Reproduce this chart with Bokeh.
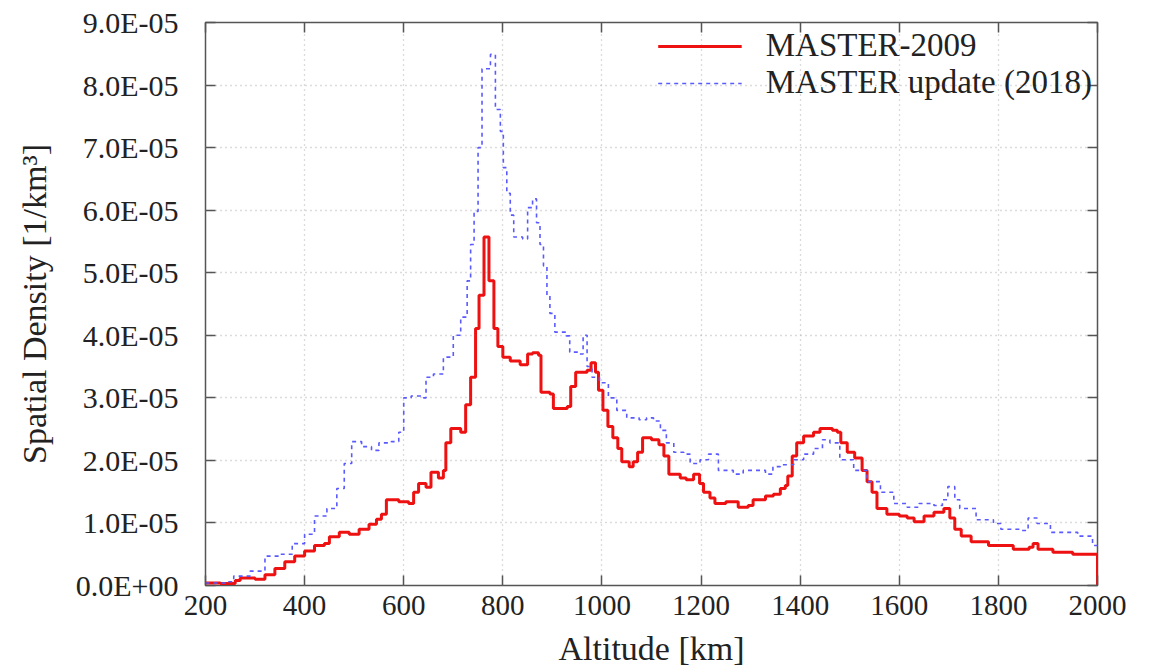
import numpy as np
from bokeh.plotting import figure
from bokeh.models import Range1d, LinearAxis, FixedTicker, CustomJSTickFormatter, Legend, LegendItem
from bokeh.embed import file_html
from bokeh.resources import INLINE

# ---- data (altitude in km, spatial density in units of 1e-5 per km^3) ----
red_alt = [200, 230, 260, 270, 300, 320, 340, 360, 380, 400, 420, 440, 450, 470, 490, 510, 530, 545, 555, 565,
           590, 610, 620, 630, 645, 655, 670, 680, 685, 695, 715, 725, 735, 745, 752, 762, 772, 782, 790, 800,
           815, 835, 850, 860, 872, 877, 895, 902, 930, 937, 947, 970, 978, 987, 993, 1002, 1012, 1022, 1032, 1040,
           1055, 1063, 1072, 1082, 1100, 1115, 1125, 1135, 1158, 1170, 1185, 1197, 1205, 1218, 1228, 1250, 1275, 1295, 1305, 1330,
           1346, 1360, 1370, 1375, 1384, 1393, 1407, 1427, 1440, 1465, 1475, 1482, 1495, 1510, 1525, 1535, 1545, 1555, 1575, 1600,
           1616, 1630, 1650, 1670, 1690, 1702, 1712, 1725, 1745, 1780, 1830, 1862, 1870, 1880, 1910, 1950, 2000]
red_val = [0.04, 0.03, 0.08, 0.12, 0.10, 0.17, 0.27, 0.38, 0.47, 0.55, 0.64, 0.67, 0.78, 0.85, 0.82, 0.90, 0.98, 1.06, 1.14, 1.37,
           1.34, 1.31, 1.49, 1.63, 1.57, 1.81, 1.72, 1.84, 2.28, 2.51, 2.45, 2.89, 3.33, 4.11, 4.64, 5.57, 4.87, 4.11, 3.82, 3.65,
           3.59, 3.53, 3.70, 3.72, 3.68, 3.09, 3.06, 2.83, 2.86, 3.18, 3.41, 3.44, 3.56, 3.41, 3.12, 2.80, 2.54, 2.36, 2.19, 1.98,
           1.90, 1.98, 2.13, 2.36, 2.33, 2.25, 2.07, 1.78, 1.72, 1.69, 1.78, 1.63, 1.49, 1.40, 1.31, 1.34, 1.25, 1.28, 1.37, 1.43,
           1.46, 1.55, 1.60, 1.75, 2.07, 2.28, 2.39, 2.45, 2.51, 2.48, 2.45, 2.28, 2.13, 2.04, 1.84, 1.66, 1.49, 1.23, 1.14, 1.11,
           1.08, 1.02, 1.11, 1.17, 1.23, 1.08, 0.90, 0.79, 0.70, 0.64, 0.58, 0.61, 0.67, 0.58, 0.53, 0.50, 0.0]

blue_alt = [200, 240, 257, 290, 320, 350, 375, 400, 420, 445, 465, 480, 495, 515, 535, 550, 575, 590, 600, 615,
            640, 645, 660, 680, 700, 715, 728, 735, 742, 750, 758, 775, 785, 795, 801, 808, 815, 822, 840, 850,
            860, 868, 875, 882, 889, 895, 905, 928, 935, 952, 962, 970, 980, 995, 1013, 1030, 1050, 1075, 1090, 1104,
            1118, 1130, 1145, 1165, 1178, 1198, 1215, 1235, 1265, 1285, 1330, 1345, 1360, 1387, 1407, 1427, 1445, 1460, 1480, 1508,
            1535, 1562, 1589, 1616, 1640, 1670, 1687, 1698, 1712, 1722, 1755, 1790, 1805, 1845, 1860, 1878, 1905, 1960, 1990, 2000]
blue_val = [0.04, 0.06, 0.15, 0.23, 0.47, 0.50, 0.67, 0.82, 1.11, 1.23, 1.55, 1.95, 2.30, 2.22, 2.16, 2.28, 2.30, 2.45, 3.00, 3.03,
            3.00, 3.33, 3.38, 3.65, 4.00, 4.29, 4.87, 5.45, 5.98, 7.00, 8.26, 8.49, 7.61, 7.26, 6.68, 6.27, 5.92, 5.57, 5.54, 6.04,
            6.18, 5.80, 5.45, 5.11, 4.64, 4.35, 4.05, 3.99, 3.73, 3.70, 4.00, 3.50, 3.33, 3.24, 3.00, 2.80, 2.68, 2.65, 2.68, 2.63,
            2.48, 2.28, 2.13, 2.10, 1.95, 2.01, 2.10, 1.84, 1.78, 1.84, 1.78, 1.90, 1.93, 2.01, 2.10, 2.19, 2.33, 2.28, 2.01, 1.84,
            1.66, 1.49, 1.31, 1.25, 1.31, 1.28, 1.37, 1.58, 1.37, 1.23, 1.05, 0.99, 0.90, 0.88, 1.08, 0.99, 0.85, 0.79, 0.64, 0.61]

series_names = ["MASTER-2009", "MASTER update (2018)"]
x_ticks = [200, 400, 600, 800, 1000, 1200, 1400, 1600, 1800, 2000]
y_ticks_e5 = [0, 1, 2, 3, 4, 5, 6, 7, 8, 9]
SCALE = 1e-5

FONT = "Liberation Serif"
W, H = 1130, 670

p = figure(width=W, height=H, output_backend="svg", toolbar_location=None,
           x_range=Range1d(200, 2000), y_range=Range1d(0, 9 * SCALE),
           min_border_left=205, min_border_right=33, min_border_top=22, min_border_bottom=85)
p.background_fill_color = "white"
p.border_fill_color = "white"
p.outline_line_color = "#555555"
p.outline_line_width = 1.5

r_red = p.step(red_alt, np.array(red_val) * SCALE, mode="after", line_color="#ee1111", line_width=3)
r_blue = p.step(blue_alt, np.array(blue_val) * SCALE, mode="after", line_color="#5a5aff",
                line_width=1.6, line_dash="4 4")

fmt = CustomJSTickFormatter(code="""
if (Math.abs(tick) < 1e-12) { return "0.0E+00"; }
var s = tick.toExponential(1).toUpperCase();
var parts = s.split("E");
var e = parseInt(parts[1]);
var sign = e < 0 ? "-" : "+";
var a = Math.abs(e);
return parts[0] + "E" + sign + (a < 10 ? "0" : "") + a;
""")

yt = FixedTicker(ticks=[v * SCALE for v in y_ticks_e5])
xt = FixedTicker(ticks=x_ticks)

for ax in p.xaxis:
    ax.ticker = xt
    ax.axis_label = "Altitude [km]"
    ax.axis_label_text_font = FONT
    ax.axis_label_text_font_size = "34px"
    ax.axis_label_text_font_style = "normal"
    ax.axis_label_text_color = "#222222"
    ax.axis_label_standoff = 12
    ax.major_label_text_font = FONT
    ax.major_label_text_font_size = "29px"
    ax.major_label_text_color = "#222222"
    ax.major_label_standoff = 10
for ax in p.yaxis:
    ax.ticker = yt
    ax.formatter = fmt
    ax.axis_label = "Spatial Density [1/km³]"
    ax.axis_label_text_font = FONT
    ax.axis_label_text_font_size = "34px"
    ax.axis_label_text_font_style = "normal"
    ax.axis_label_text_color = "#222222"
    ax.axis_label_standoff = 20
    ax.major_label_text_font = FONT
    ax.major_label_text_font_size = "30px"
    ax.major_label_text_color = "#222222"
    ax.major_label_standoff = 27

for ax in list(p.xaxis) + list(p.yaxis):
    ax.axis_line_color = None
    ax.major_tick_in = 10
    ax.major_tick_out = 0
    ax.major_tick_line_color = "#555555"
    ax.major_tick_line_width = 1.5
    ax.minor_tick_line_color = None

top = LinearAxis(ticker=xt, major_label_text_color=None, major_label_text_font_size="10px",
                 axis_line_color=None, major_tick_in=10, major_tick_out=0,
                 major_tick_line_color="#555555", major_tick_line_width=1.5,
                 minor_tick_line_color=None, major_label_standoff=0)
right = LinearAxis(ticker=yt, major_label_text_color=None, major_label_text_font_size="10px",
                   axis_line_color=None, major_tick_in=10, major_tick_out=0,
                   major_tick_line_color="#555555", major_tick_line_width=1.5,
                   minor_tick_line_color=None, major_label_standoff=0)
p.add_layout(top, "above")
p.add_layout(right, "right")

p.xgrid.ticker = xt
p.ygrid.ticker = yt
for g in (p.xgrid, p.ygrid):
    g.grid_line_color = "#b8b8b8"
    g.grid_line_dash = "1 4"
    g.grid_line_width = 1.3

legend = Legend(items=[LegendItem(label=series_names[0], renderers=[r_red]),
                       LegendItem(label=series_names[1], renderers=[r_blue])],
                location="top_right")
legend.background_fill_alpha = 0
legend.border_line_color = None
legend.label_text_font = FONT
legend.label_text_font_size = "33px"
legend.label_text_color = "#222222"
legend.glyph_width = 84
legend.label_standoff = 24
legend.spacing = 0
legend.padding = 2
legend.margin = 5
p.add_layout(legend)

open("out.html", "w").write(file_html(p, INLINE))
